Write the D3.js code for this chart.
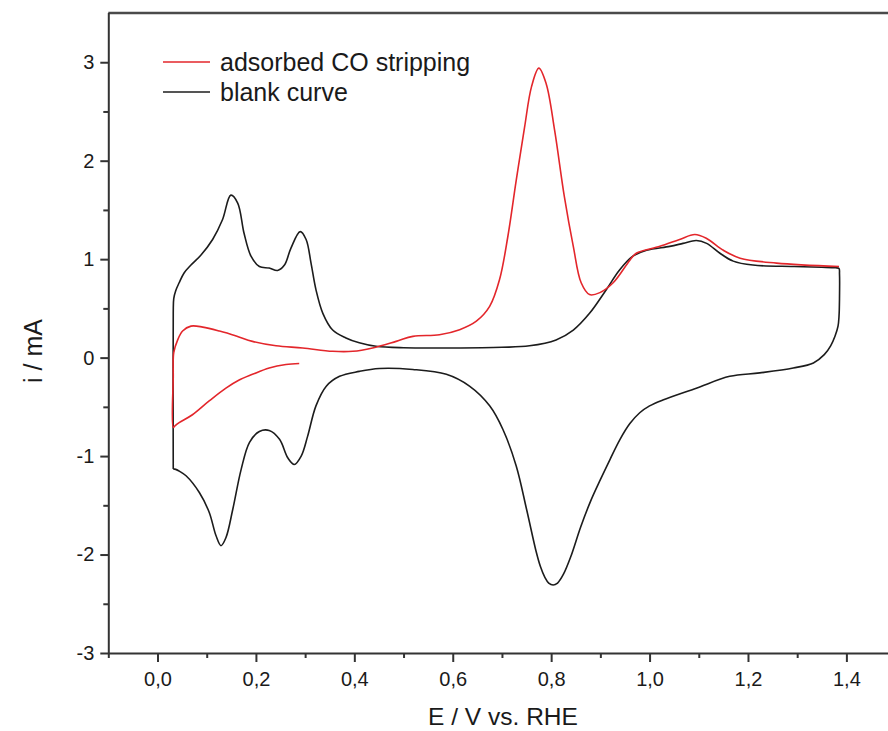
<!DOCTYPE html>
<html>
<head>
<meta charset="utf-8">
<script src="https://cdn.jsdelivr.net/npm/d3@7"></script>
<style>
  html, body { margin: 0; padding: 0; background: #fff; }
  svg { display: block; }
  text { font-family: "Liberation Sans", Arial, sans-serif; fill: #1a1a1a; }
</style>
</head>
<body>
<svg id="chart" width="888" height="731"></svg>
<script>
// ---- data ----
const blankE = [0.032,0.032,0.033,0.037,0.044,0.054,0.068,0.088,0.112,0.132,0.149,0.163,0.176,0.19,0.207,0.227,0.244,0.258,0.271,0.29,0.302,0.312,0.322,0.336,0.356,0.383,0.41,0.444,0.5,0.6,0.7,0.756,0.81,0.845,0.878,0.912,0.939,0.966,0.994,1.041,1.068,1.095,1.116,1.143,1.17,1.21,1.292,1.35,1.378,1.385,1.386,1.386,1.385,1.383,1.377,1.368,1.355,1.333,1.292,1.224,1.163,1.095,1.027,1.0,0.98,0.96,0.94,0.92,0.9,0.88,0.86,0.84,0.825,0.813,0.804,0.795,0.787,0.778,0.77,0.75,0.729,0.702,0.675,0.634,0.587,0.519,0.451,0.41,0.37,0.343,0.322,0.305,0.292,0.278,0.265,0.248,0.227,0.207,0.187,0.17,0.153,0.139,0.129,0.119,0.105,0.085,0.058,0.045,0.037,0.032];
const blankI = [-1.13,0.45,0.6,0.68,0.76,0.86,0.94,1.04,1.20,1.40,1.65,1.57,1.26,1.03,0.925,0.91,0.885,0.94,1.11,1.28,1.20,0.96,0.69,0.45,0.28,0.20,0.15,0.115,0.10,0.098,0.105,0.12,0.18,0.28,0.45,0.69,0.89,1.03,1.09,1.13,1.16,1.19,1.16,1.06,0.98,0.94,0.925,0.918,0.912,0.905,0.85,0.6,0.42,0.32,0.22,0.12,0.03,-0.054,-0.105,-0.155,-0.19,-0.31,-0.43,-0.49,-0.56,-0.67,-0.83,-1.03,-1.24,-1.46,-1.72,-2.02,-2.2,-2.29,-2.31,-2.29,-2.23,-2.12,-1.98,-1.54,-1.10,-0.73,-0.49,-0.29,-0.17,-0.12,-0.11,-0.14,-0.19,-0.29,-0.49,-0.80,-1.0,-1.085,-1.02,-0.83,-0.74,-0.75,-0.86,-1.135,-1.54,-1.83,-1.91,-1.81,-1.57,-1.37,-1.20,-1.155,-1.135,-1.13];

const coE = [0.288,0.261,0.227,0.193,0.165,0.139,0.105,0.071,0.044,0.036,0.032,0.032,0.033,0.041,0.051,0.068,0.092,0.126,0.16,0.193,0.241,0.295,0.356,0.397,0.437,0.485,0.519,0.573,0.614,0.648,0.675,0.695,0.712,0.729,0.746,0.76,0.775,0.79,0.807,0.827,0.845,0.861,0.878,0.899,0.926,0.96,0.973,1.021,1.061,1.092,1.116,1.15,1.184,1.258,1.385];
const coI = [-0.06,-0.07,-0.105,-0.17,-0.23,-0.31,-0.44,-0.58,-0.66,-0.69,-0.71,-0.2,0.05,0.18,0.27,0.32,0.31,0.27,0.22,0.165,0.12,0.098,0.064,0.064,0.098,0.165,0.216,0.233,0.284,0.37,0.52,0.79,1.23,1.80,2.34,2.75,2.94,2.78,2.31,1.63,1.13,0.76,0.64,0.66,0.76,0.99,1.06,1.13,1.20,1.25,1.21,1.09,1.01,0.96,0.925];

const xMajorTicks = [0.0,0.2,0.4,0.6,0.8,1.0,1.2,1.4];
const xMinorTicks = [-0.1,0.1,0.3,0.5,0.7,0.9,1.1,1.3];
const yMajorTicks = [-3,-2,-1,0,1,2,3];
const yMinorTicks = [-2.5,-1.5,-0.5,0.5,1.5,2.5];
const legendLabels = ["adsorbed CO stripping","blank curve"];
const seriesColors = ["#e3262b","#1c1c1c"];
const xTitle = "E / V vs. RHE";
const yTitle = "i / mA";

// ---- layout ----
const svg = d3.select("#chart");
const mLeft = 108.3, mTop = 13, mBottom = 653;
const x = d3.scaleLinear().domain([-0.1, 1.5]).range([mLeft, 895.6]);
const y = d3.scaleLinear().domain([-3, 3.5]).range([mBottom, mTop]);

const fmtX = d => d.toFixed(1).replace(".", ",");

// top frame line
svg.append("line")
  .attr("x1", mLeft).attr("x2", 888).attr("y1", mTop).attr("y2", mTop)
  .attr("stroke", "#4a4a4a").attr("stroke-width", 2.6);

// minor ticks
const gxm = svg.append("g").attr("transform", `translate(0,${mBottom})`)
  .call(d3.axisBottom(x).tickValues(xMinorTicks).tickSize(5).tickFormat("").tickSizeOuter(0));
gxm.select(".domain").remove();
const gym = svg.append("g").attr("transform", `translate(${mLeft},0)`)
  .call(d3.axisLeft(y).tickValues(yMinorTicks).tickSize(5).tickFormat("").tickSizeOuter(0));
gym.select(".domain").remove();

// major axes
const gx = svg.append("g").attr("transform", `translate(0,${mBottom})`)
  .call(d3.axisBottom(x).tickValues(xMajorTicks).tickSize(9).tickPadding(10).tickFormat(fmtX).tickSizeOuter(0));
const gy = svg.append("g").attr("transform", `translate(${mLeft},0)`)
  .call(d3.axisLeft(y).tickValues(yMajorTicks).tickSize(8).tickPadding(6).tickFormat(d => String(d)).tickSizeOuter(0));
gy.select(".domain").attr("d", `M0.5,${mBottom}V${mTop}`);

[gx, gy, gxm, gym].forEach(g => {
  g.selectAll(".domain").attr("stroke", "#333").attr("stroke-width", 2);
  g.selectAll(".tick line").attr("stroke", "#333").attr("stroke-width", 2);
  g.selectAll(".tick text").style("font-size", "20px").attr("fill", "#1a1a1a")
    .style("font-family", "'Liberation Sans', Arial, sans-serif");
});

// axis titles
svg.append("text").attr("x", 503).attr("y", 725).attr("text-anchor", "middle")
  .style("font-size", "24.5px").text(xTitle);
svg.append("text").attr("transform", "translate(42,351) rotate(-90)")
  .attr("text-anchor", "middle").style("font-size", "25px").text(yTitle);

// curves
const line = d3.line().x(d => x(d[0])).y(d => y(d[1])).curve(d3.curveCatmullRom.alpha(0.5));
const blankPts = blankE.map((e, k) => [e, blankI[k]]);
const coPts = coE.map((e, k) => [e, coI[k]]);

svg.append("path").datum(blankPts).attr("d", line)
  .attr("fill", "none").attr("stroke", seriesColors[1]).attr("stroke-width", 1.6);
svg.append("path").datum(coPts).attr("d", line)
  .attr("fill", "none").attr("stroke", seriesColors[0]).attr("stroke-width", 1.6);

// legend
const legend = svg.append("g");
legendLabels.forEach((lab, k) => {
  const ly = 62 + k * 30;
  legend.append("line").attr("x1", 163).attr("x2", 210).attr("y1", ly).attr("y2", ly)
    .attr("stroke", seriesColors[k]).attr("stroke-width", 1.6);
  legend.append("text").attr("x", 220).attr("y", ly).attr("dy", "0.35em")
    .style("font-size", "25px").text(lab);
});
</script>
</body>
</html>
